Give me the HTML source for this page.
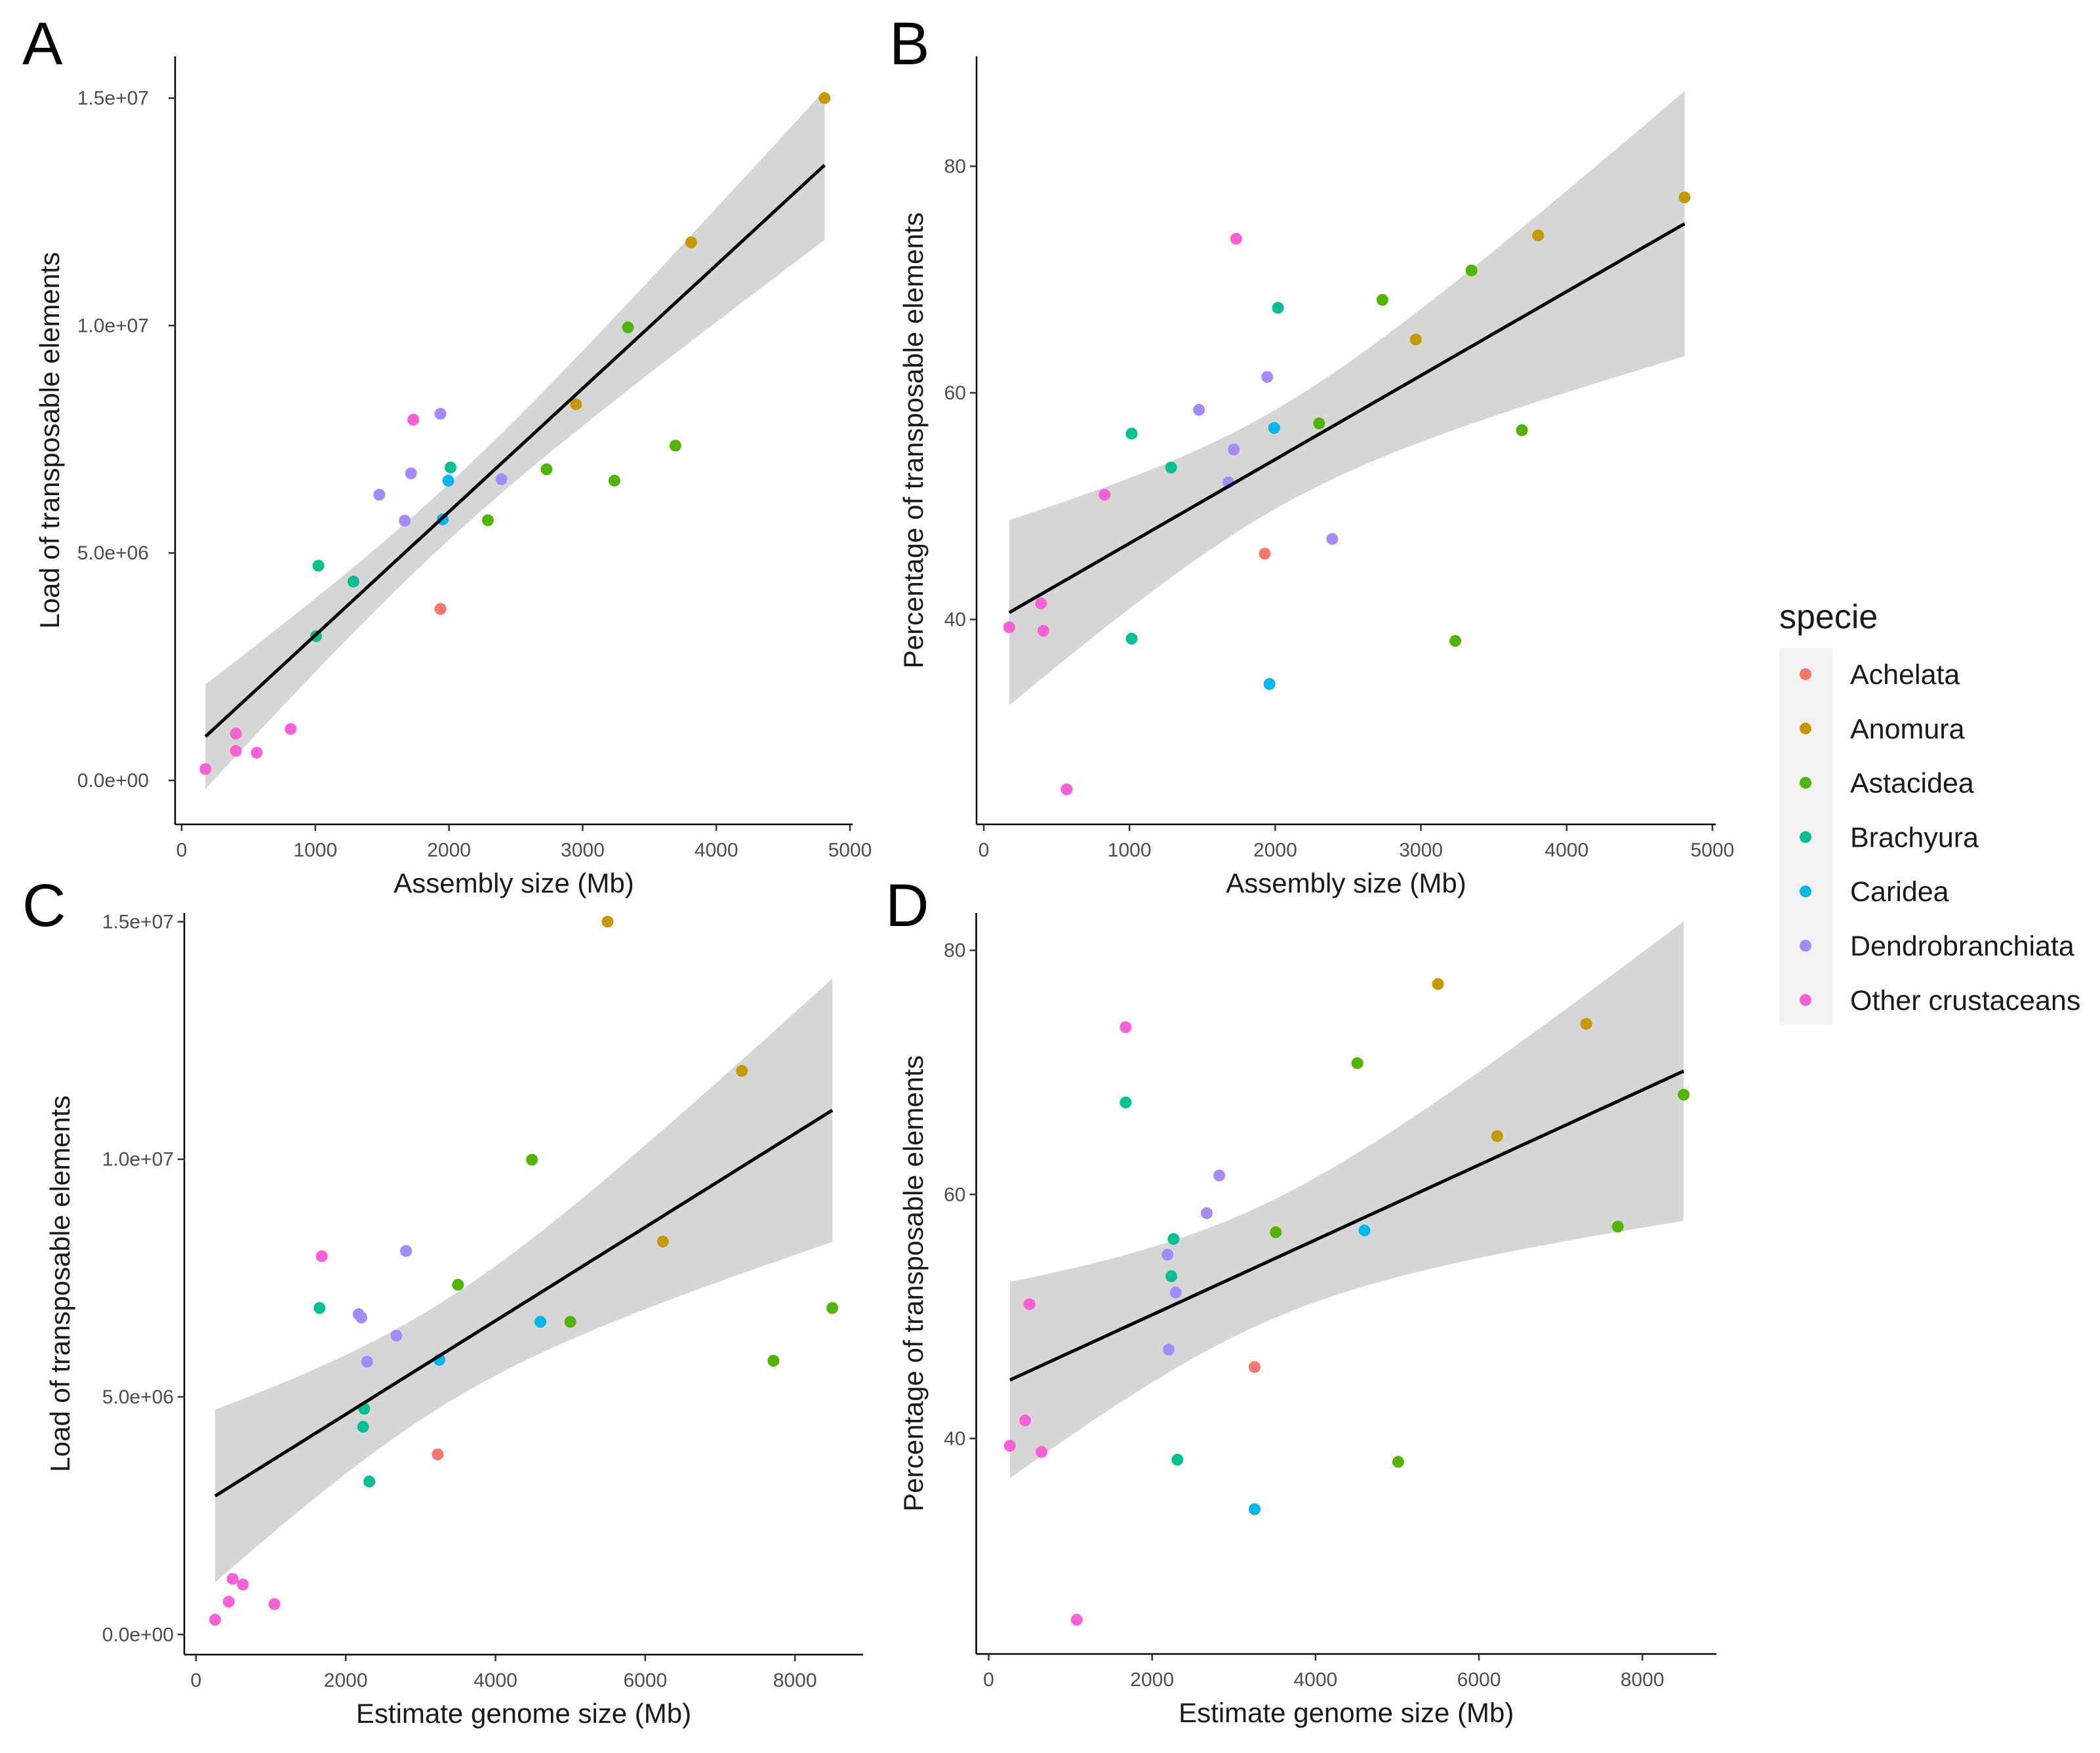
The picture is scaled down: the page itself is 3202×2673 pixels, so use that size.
<!DOCTYPE html>
<html><head><meta charset="utf-8">
<style>
html,body{margin:0;padding:0;background:#fff;}
svg{display:block;font-family:"Liberation Sans",Arial,sans-serif;}
</style></head>
<body>
<svg id="fig" width="3202" height="2673" viewBox="0 0 3202 2673" xmlns="http://www.w3.org/2000/svg">
<rect width="3202" height="2673" fill="#fff"/>
<text x="34" y="98" font-size="92">A</text>
<text x="1356" y="98" font-size="92">B</text>
<text x="34" y="1412" font-size="92">C</text>
<text x="1350" y="1412" font-size="92">D</text>
<g id="legend"></g>
</svg>
<script>
const speciesNames=["Achelata","Anomura","Astacidea","Brachyura","Caridea","Dendrobranchiata","Other crustaceans"];
const speciesColors=["#F8766D","#C49A00","#53B400","#00C094","#00B6EB","#A58AFF","#FB61D7"];

// Panel A: assembly size vs TE load
const aX=[4810,3812,2950,3339,3694,2730,3238,2291,2012,1023,1285,1006,1995,1953,1936,1936,1716,1479,1669,2392,1733,816,406,406,562,178];
const aY=[15.0e6,11.83e6,8.27e6,9.96e6,7.36e6,6.84e6,6.59e6,5.72e6,6.88e6,4.72e6,4.37e6,3.17e6,6.59e6,5.74e6,3.77e6,8.06e6,6.75e6,6.28e6,5.71e6,6.62e6,7.93e6,1.13e6,1.03e6,0.65e6,0.61e6,0.25e6];
const aS=[1,1,1,2,2,2,2,2,3,3,3,3,4,4,0,5,5,5,5,5,6,6,6,6,6,6];
// Panel B: assembly size vs TE %
const bX=[4809,3804,2965,3347,2736,2301,3693,3236,2019,1015,1286,1015,1993,1961,1929,1945,1477,1716,1679,2391,1732,829,393,175,409,569];
const bY=[77.25,73.9,64.7,70.8,68.2,57.3,56.7,38.1,67.5,56.4,53.4,38.3,56.9,34.3,45.8,61.4,58.5,55.0,52.1,47.1,73.6,51.0,41.4,39.3,39.0,25.0];
const bS=[1,1,1,2,2,2,2,2,3,3,3,3,4,4,0,5,5,5,5,5,6,6,6,6,6,6];
// Panel C: estimated genome size vs TE load
const cX=[5497,7291,6236,4487,3499,4999,8498,7713,1651,2247,2232,2315,4600,3250,3228,2805,2172,2209,2677,2285,1681,490,626,437,1048,256];
const cY=[15.0e6,11.86e6,8.27e6,9.99e6,7.36e6,6.58e6,6.87e6,5.76e6,6.87e6,4.75e6,4.37e6,3.22e6,6.58e6,5.78e6,3.79e6,8.07e6,6.74e6,6.67e6,6.29e6,5.74e6,7.96e6,1.17e6,1.05e6,0.69e6,0.64e6,0.31e6];
const cS=[1,1,1,2,2,2,2,2,3,3,3,3,4,4,0,5,5,5,5,5,6,6,6,6,6,6];
// Panel D: estimated genome size vs TE %
const dX=[5498,7314,6223,4512,3514,5012,8506,7700,1677,2263,2236,2310,4599,3255,3255,2822,2669,2190,2290,2203,1677,499,446,260,646,1078];
const dY=[77.24,73.97,64.77,70.75,56.9,38.08,68.17,57.36,67.53,56.35,53.3,38.26,57.04,34.2,45.85,61.55,58.46,55.06,51.97,47.28,73.7,51.0,41.48,39.4,38.9,25.14];
const dS=[1,1,1,2,2,2,2,2,3,3,3,3,4,4,0,5,5,5,5,5,6,6,6,6,6,6];

const xTicksAB=[0,1000,2000,3000,4000,5000];
const xTicksCD=[0,2000,4000,6000,8000];
const yTicksLoad=[0,5e6,10e6,15e6];
const yTicksLoadLabels=["0.0e+00","5.0e+06","1.0e+07","1.5e+07"];
const yTicksPct=[40,60,80];
const yTicksPctLabels=["40","60","80"];

const NS="http://www.w3.org/2000/svg";
const svg=document.getElementById('fig');
function mk(tag,attrs,parent){const e=document.createElementNS(NS,tag);for(const k in attrs)e.setAttribute(k,attrs[k]);(parent||svg).appendChild(e);return e;}

function panel(cfg){
  const g=mk('g',{});
  
  
  const sx=v=>cfg.x0+(v-cfg.dx0)*(cfg.x1-cfg.x0)/(cfg.dx1-cfg.dx0);
  const sy=v=>cfg.y0+(v-cfg.dy0)*(cfg.y1-cfg.y0)/(cfg.dy1-cfg.dy0);
  const X=cfg.xs,Y=cfg.ys,n=X.length;
  let mx=0,my=0;for(let i=0;i<n;i++){mx+=X[i];my+=Y[i];}mx/=n;my/=n;
  let sxx=0,sxy=0;for(let i=0;i<n;i++){sxx+=(X[i]-mx)**2;sxy+=(X[i]-mx)*(Y[i]-my);}
  const b=sxy/sxx,a=my-b*mx;
  let sse=0;for(let i=0;i<n;i++){sse+=(Y[i]-a-b*X[i])**2;}
  const s=Math.sqrt(sse/(n-2)),t=2.064;
  const xmin=Math.min(...X),xmax=Math.max(...X);
  const up=[],lo=[],ln=[];
  for(let k=0;k<=80;k++){
    const xv=xmin+(xmax-xmin)*k/80;const f=a+b*xv;
    const se=s*Math.sqrt(1/n+(xv-mx)**2/sxx);
    up.push(sx(xv).toFixed(1)+','+sy(f+t*se).toFixed(1));
    lo.unshift(sx(xv).toFixed(1)+','+sy(f-t*se).toFixed(1));
    ln.push(sx(xv).toFixed(1)+','+sy(f).toFixed(1));
  }
  const band=mk('polygon',{points:up.concat(lo).join(' '),fill:'#d6d6d6'},g);
  
  
  for(let i=0;i<n;i++){
    const c=mk('circle',{cx:sx(X[i]).toFixed(1),cy:sy(Y[i]).toFixed(1),r:9,fill:speciesColors[cfg.ss[i]]},g);
    
    
  }
  const line=mk('polyline',{points:ln.join(' '),fill:'none',stroke:'#000','stroke-width':5},g);
  
  
  const yax=mk('line',{x1:cfg.ax,y1:cfg.atop,x2:cfg.ax,y2:cfg.ay,stroke:'#000','stroke-width':2.5},g);
  
  
  const xax=mk('line',{x1:cfg.ax,y1:cfg.ay,x2:cfg.aright,y2:cfg.ay,stroke:'#000','stroke-width':2.5},g);
  
  
  cfg.xt.forEach(v=>{
    const px=sx(v);
    mk('line',{x1:px,y1:cfg.ay,x2:px,y2:cfg.ay+10,stroke:'#333','stroke-width':2.5},g);
    const tl=mk('text',{x:px,y:cfg.ay+49,'font-size':30,fill:'#4d4d4d','text-anchor':'middle'},g);
    tl.textContent=String(v);
    
    
  });
  cfg.yt.forEach((v,i)=>{
    const py=sy(v);
    mk('line',{x1:cfg.ax-10,y1:py,x2:cfg.ax,y2:py,stroke:'#333','stroke-width':2.5},g);
    const tl=mk('text',{x:cfg.ax-cfg.yoff,y:py+10,'font-size':30,fill:'#4d4d4d','text-anchor':'end'},g);
    tl.textContent=cfg.ytl[i];
    
    
  });
  const xt=mk('text',{x:(cfg.ax+cfg.aright)/2,y:cfg.ay+104,'font-size':42,fill:'#1a1a1a','text-anchor':'middle'},g);
  xt.textContent=cfg.xtitle;
  
  
  const cy=(cfg.atop+cfg.ay)/2;
  const yt=mk('text',{x:cfg.ytx,y:cy,'font-size':42,fill:'#1a1a1a','text-anchor':'middle',transform:`rotate(-90 ${cfg.ytx} ${cy})`},g);
  yt.textContent=cfg.ytitle;
  
  
}

panel({name:'panel-a',xs:aX,ys:aY,ss:aS,x0:277,x1:1296,dx0:0,dx1:5000,y0:1190,y1:149.6,dy0:0,dy1:15e6,
  ax:267,ay:1257,atop:86,aright:1300,xt:xTicksAB,yt:yTicksLoad,ytl:yTicksLoadLabels,yoff:40,
  xtitle:'Assembly size (Mb)',ytitle:'Load of transposable elements',ytx:90});
panel({name:'panel-b',xs:bX,ys:bY,ss:bS,x0:1500,x1:2611,dx0:0,dx1:5000,y0:944.5,y1:253.5,dy0:40,dy1:80,
  ax:1489,ay:1257,atop:86,aright:2616,xt:xTicksAB,yt:yTicksPct,ytl:yTicksPctLabels,yoff:16,
  xtitle:'Assembly size (Mb)',ytitle:'Percentage of transposable elements',ytx:1407});
panel({name:'panel-c',xs:cX,ys:cY,ss:cS,x0:298.8,x1:1212.2,dx0:0,dx1:8000,y0:2492.3,y1:1405.4,dy0:0,dy1:15e6,
  ax:281,ay:2523,atop:1392,aright:1316,xt:xTicksCD,yt:yTicksLoad,ytl:yTicksLoadLabels,yoff:16,
  xtitle:'Estimate genome size (Mb)',ytitle:'Load of transposable elements',ytx:106});
panel({name:'panel-d',xs:dX,ys:dY,ss:dS,x0:1507.5,x1:2504.2,dx0:0,dx1:8000,y0:2193.4,y1:1449.1,dy0:40,dy1:80,
  ax:1488.5,ay:2522,atop:1392,aright:2617,xt:xTicksCD,yt:yTicksPct,ytl:yTicksPctLabels,yoff:16,
  xtitle:'Estimate genome size (Mb)',ytitle:'Percentage of transposable elements',ytx:1407});

const lg=document.getElementById('legend');
const lt=mk('text',{x:2713,y:958,'font-size':52,fill:'#1a1a1a'},lg);
lt.textContent='specie';


mk('rect',{x:2713,y:988,width:81,height:574,fill:'#f2f2f2'},lg);
speciesNames.forEach((nm,i)=>{
  const y=1028+i*82.8;
  const d=mk('circle',{cx:2753,cy:y,r:9,fill:speciesColors[i]},lg);
  
  
  const t=mk('text',{x:2821,y:y+15,'font-size':43,fill:'#1a1a1a'},lg);
  t.textContent=nm;
  
  
});
</script>
</body></html>
